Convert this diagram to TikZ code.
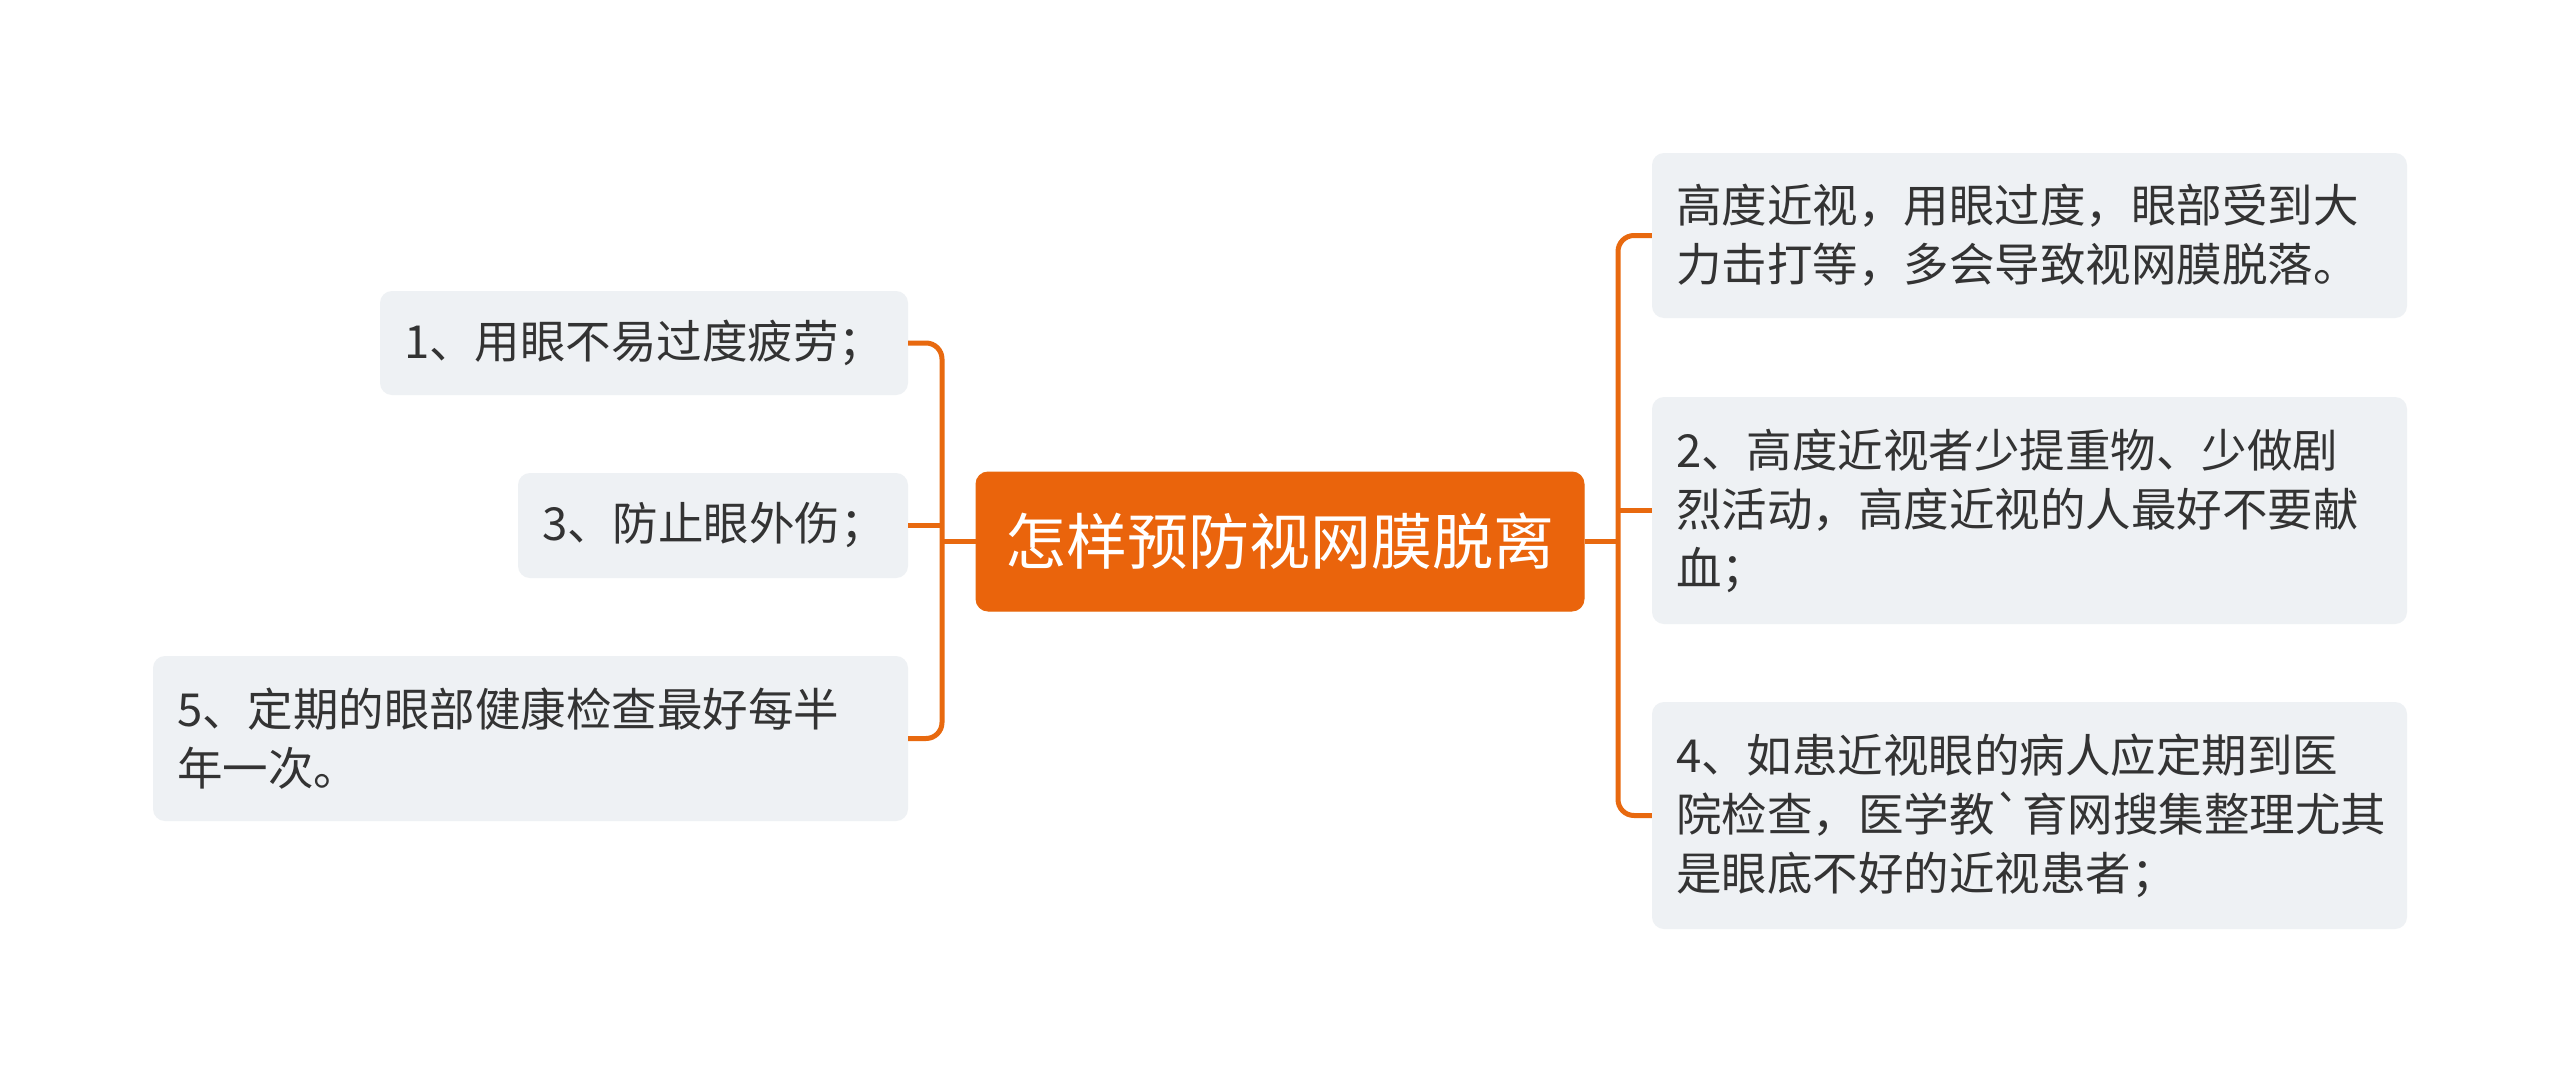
\documentclass[tikz,border=0pt]{standalone}
\usepackage{fontspec}
\newfontfamily\cjk{Noto Sans CJK SC}
\definecolor{mainorange}{HTML}{EA640C}
\definecolor{lineorange}{HTML}{E8690F}
\definecolor{boxfill}{HTML}{EEF1F4}
\definecolor{textc}{HTML}{333333}
\tikzset{
  sub/.style={fill=boxfill, rounded corners=12pt, inner xsep=24pt, inner ysep=0pt,
    align=left, text=textc, font=\cjk\fontsize{45.5}{59}\selectfont, anchor=center},
  topic/.style={fill=mainorange, draw=lineorange, line width=1pt, rounded corners=12pt,
    inner sep=0pt, text=white, font=\cjk\fontsize{61}{72}\selectfont,
    minimum width=608pt, minimum height=139pt, anchor=center},
  conn/.style={draw=lineorange, line width=5pt},
}
\begin{document}
\begin{tikzpicture}[x=1pt,y=-1pt]
\useasboundingbox (0,0) rectangle (2560,1082);
\fill[white] (0,0) rectangle (2560,1082);

\node[topic] (c) at (1280,541.5) {怎样预防视网膜脱离};

% left side
\node[sub, text width=480pt, minimum height=104pt] (l1) at (644,343) {1、用眼不易过度疲劳；};
\node[sub, text width=342pt, minimum height=105pt] (l3) at (713,525.5) {3、防止眼外伤；};
\node[sub, text width=707pt, minimum height=165pt] (l5) at (530.5,738.5) {5、定期的眼部健康检查最好每半\\年一次。};

% right side
\node[sub, text width=707pt, minimum height=165pt] (r1) at (2029.5,235.5) {高度近视，用眼过度，眼部受到大\\力击打等，多会导致视网膜脱落。};
\node[sub, text width=707pt, minimum height=227pt] (r2) at (2029.5,510.5) {2、高度近视者少提重物、少做剧\\烈活动，高度近视的人最好不要献\\血；};
\node[sub, text width=707pt, minimum height=227pt] (r4) at (2029.5,815.5) {4、如患近视眼的病人应定期到医\\院检查，医学教`育网搜集整理尤其\\是眼底不好的近视患者；};

\coordinate (lx) at (942,541.5);
\coordinate (rx) at (1618,541.5);

\draw[conn, rounded corners=16pt] (l1.east) -| (lx) |- (l5.east);
\draw[conn] (c.west) -- (lx);
\draw[conn] (l3.east) -- (l3.east -| lx);

\draw[conn, rounded corners=16pt] (r1.west) -| (rx) |- (r4.west);
\draw[conn] (c.east) -- (rx);
\draw[conn] (r2.west) -- (r2.west -| rx);
\end{tikzpicture}
\end{document}
